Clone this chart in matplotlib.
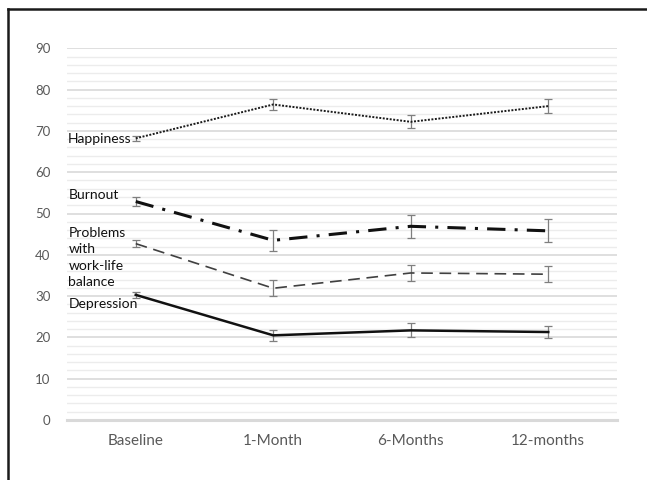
import matplotlib
matplotlib.use("Agg")
import matplotlib.pyplot as plt
from matplotlib.lines import Line2D
from matplotlib.ticker import MultipleLocator

plt.rcParams['font.family'] = ['Lato', 'DejaVu Sans']

timepoints = ["Baseline", "1-Month", "6-Months", "12-months"]

happiness = [68.2, 76.4, 72.2, 76.0]
happiness_err = [0.6, 1.4, 1.6, 1.7]

burnout = [52.9, 43.5, 46.9, 45.8]
burnout_err = [1.1, 2.5, 2.8, 2.8]

worklife = [42.7, 31.9, 35.6, 35.3]
worklife_err = [0.9, 1.9, 2.0, 1.9]

depression = [30.3, 20.5, 21.7, 21.3]
depression_err = [0.7, 1.4, 1.7, 1.4]

y_ticks = [0, 10, 20, 30, 40, 50, 60, 70, 80, 90]

fig = plt.figure(figsize=(6.47, 4.8), dpi=100)
ax = fig.add_axes([67 / 647, 60 / 480, 550 / 647, 371.7 / 480])

x = list(range(len(timepoints)))
err_kw = dict(ecolor="#7f7f7f", elinewidth=0.9, capsize=3, capthick=0.9, zorder=3)

ax.errorbar(x, happiness, yerr=happiness_err, color="#1a1a1a", lw=1.4,
            linestyle=(0, (1, 0.8)), **err_kw)
ax.errorbar(x, burnout, yerr=burnout_err, color="#111111", lw=2.2,
            linestyle=(0, (6, 3, 1, 3)), **err_kw)
ax.errorbar(x, worklife, yerr=worklife_err, color="#404040", lw=1.2,
            linestyle=(0, (7, 4)), **err_kw)
ax.errorbar(x, depression, yerr=depression_err, color="#111111", lw=1.8,
            linestyle="-", **err_kw)

ax.set_xlim(-0.5, len(timepoints) - 0.5)
ax.set_ylim(0, 90)
ax.set_yticks(y_ticks)
ax.yaxis.set_minor_locator(MultipleLocator(2))
ax.set_xticks(x)
ax.set_xticklabels(timepoints)

ax.grid(axis="y", which="major", color="#d9d9d9", lw=1.2, zorder=0)
ax.grid(axis="y", which="minor", color="#ececec", lw=1.0, zorder=0)
ax.set_axisbelow(True)

for side in ["top", "right", "left"]:
    ax.spines[side].set_visible(False)
ax.spines["bottom"].set_color("#d9d9d9")
ax.spines["bottom"].set_linewidth(2.2)

ax.tick_params(axis="both", which="both", length=0)
ax.tick_params(axis="y", labelsize=9.5, labelcolor="#595959", pad=12)
ax.tick_params(axis="x", labelsize=11, labelcolor="#595959", pad=10)

label_kw = dict(fontsize=10, color="#111111", ha="left", va="center")
ax.text(-0.495, 68.0, "Happiness", **label_kw)
ax.text(-0.49, 54.4, "Burnout", **label_kw)
ax.text(-0.49, 39.3, "Problems\nwith\nwork-life\nbalance", linespacing=1.45, **label_kw)
ax.text(-0.49, 28.1, "Depression", **label_kw)

fig.add_artist(Line2D([8 / 647, 1.0], [1 - 9 / 480, 1 - 9 / 480],
                      color="#1a1a1a", lw=1.8, transform=fig.transFigure))
fig.add_artist(Line2D([8 / 647, 8 / 647], [0, 1 - 9 / 480],
                      color="#1a1a1a", lw=1.8, transform=fig.transFigure))

fig.savefig("out.png", dpi=100)
